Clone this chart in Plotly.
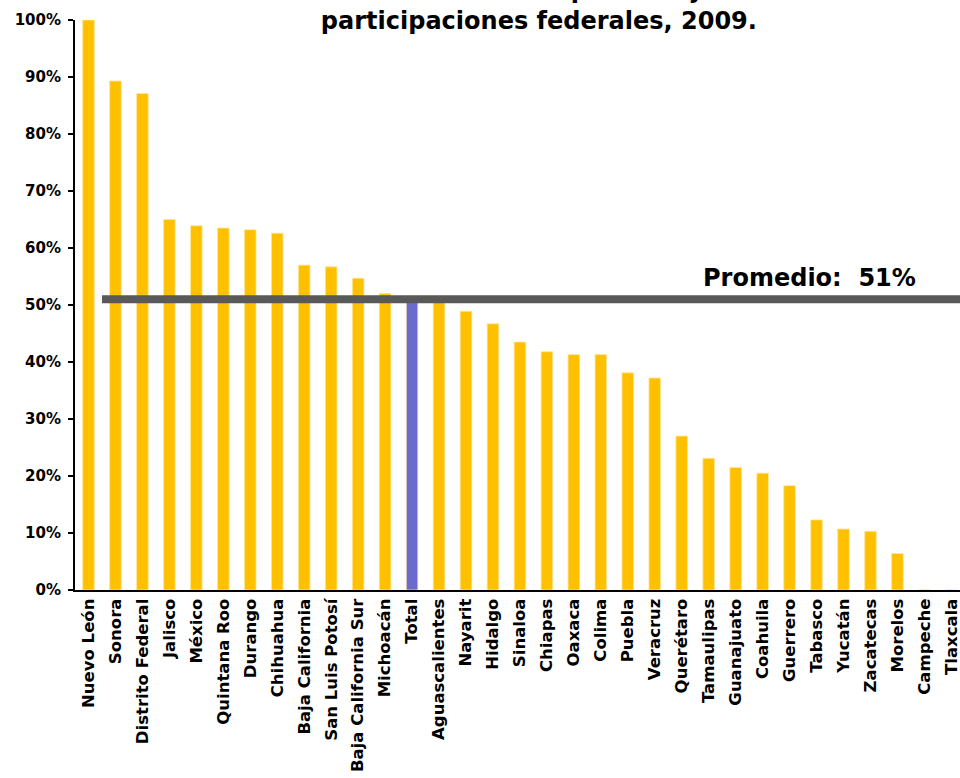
import plotly.graph_objects as go

estados = ["Nuevo León", "Sonora", "Distrito Federal", "Jalisco", "México", "Quintana Roo",
           "Durango", "Chihuahua", "Baja California", "San Luis Potosí", "Baja California Sur",
           "Michoacán", "Total", "Aguascalientes", "Nayarit", "Hidalgo", "Sinaloa", "Chiapas",
           "Oaxaca", "Colima", "Puebla", "Veracruz", "Querétaro", "Tamaulipas", "Guanajuato",
           "Coahuila", "Guerrero", "Tabasco", "Yucatán", "Zacatecas", "Morelos", "Campeche",
           "Tlaxcala"]
porcentajes = [100.0, 89.3, 87.1, 65.0, 63.9, 63.5, 63.2, 62.6, 57.0, 56.7, 54.7,
               52.0, 50.7, 50.8, 48.9, 46.7, 43.5, 41.8, 41.3, 41.3, 38.1, 37.2,
               27.0, 23.1, 21.5, 20.5, 18.3, 12.3, 10.7, 10.3, 6.4, 0.0, 0.0]
promedio = 51
titulo = "Deuda nacional como porcentaje de las<br>participaciones federales, 2009."
y_ticks = [0, 10, 20, 30, 40, 50, 60, 70, 80, 90, 100]

amarillo = "#FFC000"
azul = "#6B6BCF"
colores = [azul if e == "Total" else amarillo for e in estados]

FONT = "DejaVu Sans, Liberation Sans, Arial, sans-serif"

fig = go.Figure()
fig.add_trace(go.Bar(
    x=estados, y=porcentajes,
    marker=dict(color=colores, line=dict(color="#FFE699", width=0.8)),
    width=0.43,
    showlegend=False,
))

fig.add_shape(type="line", xref="x", yref="y",
              x0=0.5, x1=32.5, y0=promedio, y1=promedio,
              line=dict(color="#595959", width=8), layer="above")

fig.add_annotation(xref="paper", yref="y", x=0.953, y=promedio,
                   xanchor="right", yanchor="bottom", yshift=5,
                   text=f"Promedio:  {promedio}%", showarrow=False,
                   font=dict(family=FONT, size=24, color="black", weight="bold"))

fig.add_annotation(xref="paper", yref="paper", x=0.524, y=1.0,
                   xanchor="center", yanchor="bottom", yshift=-17,
                   text=titulo, showarrow=False,
                   font=dict(family=FONT, size=24, color="black", weight="bold"))

fig.update_layout(
    width=960, height=778,
    margin=dict(l=75, r=0, t=20, b=188),
    paper_bgcolor="white", plot_bgcolor="white",
    font=dict(family=FONT, color="black"),
)
fig.update_xaxes(
    type="category", range=[-0.5, 32.32],
    tickangle=-90, ticks="", showgrid=False,
    showline=True, linecolor="black", linewidth=2,
    tickfont=dict(family=FONT, size=16.5, color="black", weight="bold"),
)
fig.update_yaxes(
    range=[0, 100], tickvals=y_ticks, ticktext=[f"{v}%" for v in y_ticks],
    ticks="outside", ticklen=5, tickwidth=2, tickcolor="black",
    ticklabelstandoff=4,
    showline=True, linecolor="black", linewidth=2, showgrid=False, zeroline=False,
    tickfont=dict(family=FONT, size=15, color="black", weight="bold"),
)

fig.write_html("out.html", config={"displayModeBar": False},
               post_script="document.body.style.margin='0px';")
